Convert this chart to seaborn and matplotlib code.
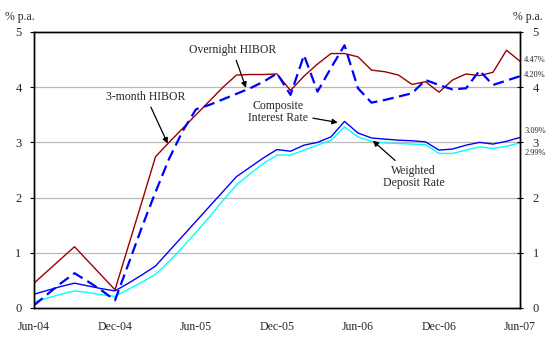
import matplotlib
matplotlib.use("Agg")
import matplotlib.pyplot as plt
import seaborn as sns
import numpy as np
import pandas as pd

months = list(range(37))  # Jun-04 .. Jun-07, monthly
tick_positions = [0, 6, 12, 18, 24, 30, 36]
tick_labels = ["Jun-04", "Dec-04", "Jun-05", "Dec-05", "Jun-06", "Dec-06", "Jun-07"]

hibor_3m = [0.45, 0.67, 0.89, 1.11, 0.85, 0.59, 0.33, 1.13, 1.93, 2.74, 3.00, 3.25,
            3.50, 3.75, 4.00, 4.22, 4.23, 4.23, 4.24, 3.94, 4.20, 4.42, 4.61, 4.61,
            4.55, 4.31, 4.28, 4.22, 4.05, 4.10, 3.91, 4.13, 4.24, 4.21, 4.27, 4.67, 4.47]
hibor_on = [0.05, 0.25, 0.45, 0.63, 0.48, 0.32, 0.14, 0.80, 1.47, 2.10, 2.70, 3.20,
            3.60, 3.68, 3.78, 3.88, 3.98, 4.10, 4.25, 3.86, 4.58, 3.92, 4.35, 4.76,
            3.98, 3.72, 3.77, 3.83, 3.89, 4.13, 4.04, 3.96, 3.98, 4.30, 4.04, 4.12, 4.20]
composite = [0.25, 0.32, 0.39, 0.45, 0.40, 0.35, 0.31, 0.45, 0.60, 0.76, 1.03, 1.30,
             1.57, 1.84, 2.11, 2.38, 2.55, 2.72, 2.87, 2.84, 2.95, 3.00, 3.10, 3.38,
             3.17, 3.08, 3.06, 3.04, 3.03, 3.01, 2.86, 2.88, 2.95, 3.00, 2.97, 3.02, 3.09]
deposit = [0.11, 0.18, 0.25, 0.31, 0.28, 0.24, 0.21, 0.34, 0.47, 0.61, 0.84, 1.10,
           1.37, 1.65, 1.95, 2.23, 2.43, 2.62, 2.77, 2.77, 2.86, 2.95, 3.04, 3.28,
           3.10, 3.02, 2.99, 2.98, 2.97, 2.96, 2.80, 2.80, 2.86, 2.92, 2.89, 2.93, 2.99]
end_labels = ["4.47%", "4.20%", "3.09%", "2.99%"]

sns.set_theme(style="white")
plt.rcParams['font.family'] = ['Liberation Serif', 'DejaVu Serif']

fig = plt.figure(figsize=(5.59, 3.42), dpi=100)
ax = fig.add_axes([34/559, 1-308/342, (520-34)/559, (308-32)/342])

sns.lineplot(x=months, y=deposit, ax=ax, color="#00FFFF", lw=1.0)
sns.lineplot(x=months, y=composite, ax=ax, color="#0000FF", lw=1.0)
sns.lineplot(x=months, y=hibor_3m, ax=ax, color="#990000", lw=1.0)
ln = sns.lineplot(x=months, y=hibor_on, ax=ax, color="#0000FF", lw=1.6)
ln.lines[-1].set_dashes([5, 2.5])

ax.set_xlim(0, 36)
ax.set_ylim(0, 5)
ax.set_yticks([0, 1, 2, 3, 4, 5])
ax.set_yticklabels(["0", "1", "2", "3", "4", "5"], fontsize=9)
ax.set_xticks(tick_positions)
ax.set_xticklabels(tick_labels, fontsize=8.5)
for y in [1, 2, 3, 4]:
    ax.axhline(y, color="#b8b8b8", lw=0.9, zorder=0)
for s in ax.spines.values():
    s.set_color("black")
    s.set_linewidth(1.0)
ax.tick_params(axis="y", direction="out", length=3, width=0.8, color="black", pad=6)
ax.tick_params(axis="x", direction="in", length=3, width=0.8, color="black", pad=9)

ax2 = ax.twinx()
ax2.set_ylim(0, 5)
ax2.set_yticks([0, 1, 2, 3, 4, 5])
ax2.set_yticklabels(["0", "1", "2", "3", "4", "5"], fontsize=9)
ax2.tick_params(axis="y", direction="inout", length=4, width=0.8, color="black", pad=7)
for s in ax2.spines.values():
    s.set_color("black")
    s.set_linewidth(1.0)

fig.text(5/559, 1-17/342, "% p.a.", fontsize=8.5, va="center", ha="left")
fig.text(513/559, 1-17/342, "% p.a.", fontsize=8.5, va="center", ha="left")

end_vals = [hibor_3m[-1], hibor_on[-1], composite[-1], deposit[-1]]
end_offsets = [0.02, 0.02, 0.11, -0.19]
for lab, v, off in zip(end_labels, end_vals, end_offsets):
    ax.annotate(lab, xy=(36, v + off), xytext=(3, 0), textcoords="offset points",
                fontsize=6.0, va="center", ha="left", annotation_clip=False)

arrow = dict(arrowstyle="-|>", color="black", lw=0.9, mutation_scale=8, shrinkA=1, shrinkB=0)
ax.annotate("Overnight HIBOR", xy=(15.7, 3.99), xytext=(14.7, 4.68),
            fontsize=8.5, ha="center", va="center", arrowprops=arrow)
ax.annotate("3-month HIBOR", xy=(9.9, 2.98), xytext=(8.3, 3.83),
            fontsize=8.5, ha="center", va="center", arrowprops=arrow)
ax.annotate("Composite\nInterest Rate", xy=(22.5, 3.36), xytext=(18.1, 3.55),
            fontsize=8.5, ha="center", va="center", linespacing=1.0, arrowprops=arrow)
ax.annotate("Weighted\nDeposit Rate", xy=(25.1, 3.03), xytext=(28.1, 2.38),
            fontsize=8.5, ha="center", va="center", linespacing=1.0, arrowprops=arrow)

fig.savefig("out.png", dpi=100)
